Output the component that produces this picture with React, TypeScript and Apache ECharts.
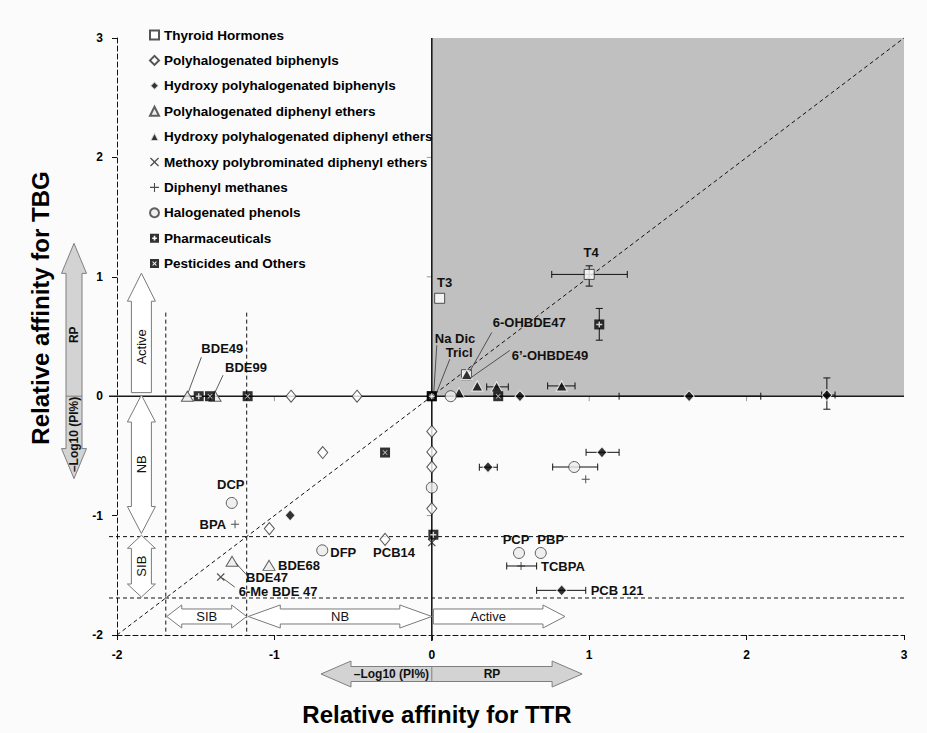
import React, { useEffect, useRef } from "react";
import * as echarts from "echarts";

const FONT = "'Liberation Sans', Arial, Helvetica, sans-serif";
const WIDTH = 927;
const HEIGHT = 733;

// ---- axes (log-scaled relative affinities) ----
const AXIS_MIN = -2;
const AXIS_MAX = 3;
const AXIS_STEP = 1;

// ---- potency cut-offs, -log10(PI%) ----
const NB_CUTOFF = -1.176;
const SIB_CUTOFF = -1.69;
const CUTOFF_LINE_TOP = 0.7;

// ---- compounds: [relative affinity for TTR, relative affinity for TBG] ----
const thyroidHormones = [
  [1.0, 1.02],
  [0.05, 0.82],
  [0.22, 0.18],
];
const polyhalogenatedBiphenyls = [
  [-0.894, 0],
  [-0.475, 0],
  [-0.693, -0.472],
  [-1.032, -1.109],
  [-0.297, -1.199],
  [0, -0.295],
  [0, -0.467],
  [0, -0.593],
  [0, -0.941],
];
const hydroxyBiphenyls = [
  [0.56, 0],
  [1.635, 0],
  [2.51, 0.01],
  [1.081, -0.47],
  [0.357, -0.595],
  [-0.9, -0.998],
  [0.825, -1.626],
];
const diphenylEthers = [
  [-1.553, 0],
  [-1.377, 0],
  [-1.269, -1.383],
  [-1.034, -1.417],
];
const hydroxyDiphenylEthers = [
  [0.222, 0.182],
  [0.289, 0.086],
  [0.412, 0.078],
  [0.173, 0.028],
  [0.825, 0.086],
];
const methoxyDiphenylEthers = [
  [-1.341, -1.515],
  [0, -1.226],
];
const diphenylMethanes = [
  [-1.25, -1.073],
  [0.978, -0.696],
  [0.567, -1.422],
];
const halogenatedPhenols = [
  [-1.271, -0.894],
  [-0.696, -1.291],
  [0.554, -1.313],
  [0.692, -1.313],
  [0.905, -0.593],
  [0.12, 0],
  [0, -0.765],
];
const pharmaceuticals = [
  [1.064, 0.601],
  [-1.481, 0],
  [0, 0],
  [0.01, -1.16],
];
const pesticides = [
  [-1.17, 0],
  [-1.409, 0],
  [-0.297, -0.472],
  [0.422, 0],
  [0, 0],
];

// ---- error bars: [x, y, low, high] ----
const ttrErrorBars = [
  [1.0, 1.02, 0.762, 1.242],
  [1.635, 0, 1.19, 2.09],
  [2.51, 0.01, 2.477, 2.562],
  [1.081, -0.47, 0.98, 1.19],
  [0.357, -0.595, 0.302, 0.416],
  [0.825, -1.626, 0.666, 0.978],
  [0.412, 0.078, 0.349, 0.486],
  [0.825, 0.086, 0.736, 0.91],
  [0.567, -1.422, 0.476, 0.666],
  [0.905, -0.593, 0.768, 1.054],
];
const tbgErrorBars = [
  [1.0, 1.02, 0.922, 1.092],
  [2.51, 0.01, -0.109, 0.153],
  [1.064, 0.601, 0.469, 0.735],
];

// ---- compound names (pixel offsets from the named mark) ----
const pointLabels = [
  { text: "T4", point: thyroidHormones[0], dx: 2, dy: -22, align: "center" },
  { text: "T3", point: thyroidHormones[1], dx: 5, dy: -16, align: "center" },
  { text: "Na Dic", point: pharmaceuticals[2], dx: 3, dy: -58, leader: [5, -51, 2, -4] },
  { text: "Tricl", point: pesticides[4], dx: 14, dy: -44, leader: [18, -37, 5, -4] },
  { text: "6-OHBDE47", point: hydroxyDiphenylEthers[0], dx: 26, dy: -52, leader: [25, -42, 3, -3] },
  { text: "6\u2019-OHBDE49", point: hydroxyDiphenylEthers[0], dx: 45, dy: -19, leader: [43, -24, 3, 4] },
  { text: "BDE49", point: diphenylEthers[0], dx: 14, dy: -48, leader: [14, -39, 1, -4] },
  { text: "BDE99", point: diphenylEthers[1], dx: 10, dy: -29, leader: [8, -21, 0, -4] },
  { text: "DCP", point: halogenatedPhenols[0], dx: -1, dy: -18, align: "center" },
  { text: "BPA", point: diphenylMethanes[0], dx: -9, dy: 0, align: "right" },
  { text: "DFP", point: halogenatedPhenols[1], dx: 8, dy: 2 },
  { text: "PCB14", point: polyhalogenatedBiphenyls[4], dx: 9, dy: 13, align: "center" },
  { text: "BDE68", point: diphenylEthers[3], dx: 9, dy: 0 },
  { text: "BDE47", point: diphenylEthers[2], dx: 14, dy: 16, leader: [4, 2, 14, 13] },
  { text: "6-Me BDE 47", point: methoxyDiphenylEthers[0], dx: 18, dy: 14, leader: [2, 1, 14, 10] },
  { text: "PCP", point: halogenatedPhenols[2], dx: -3, dy: -13, align: "center" },
  { text: "PBP", point: halogenatedPhenols[3], dx: 10, dy: -13, align: "center" },
  { text: "TCBPA", point: diphenylMethanes[2], dx: 20, dy: 1 },
  { text: "PCB 121", point: hydroxyBiphenyls[6], dx: 29, dy: 0 },
];

// ---- activity bands drawn as arrows inside the plot ----
const tbgBands = [
  { text: "Active", from: 0.03, to: 1.03, both: false, headLen: 28 },
  { text: "NB", from: -1.15, to: 0.01, both: true, headLen: 27 },
  { text: "SIB", from: -1.682, to: -1.165, both: true, headLen: 13 },
];
const ttrBands = [
  { text: "SIB", from: -1.684, to: -1.176, both: true, headLen: 15 },
  { text: "NB", from: -1.166, to: 0, both: true, headLen: 32 },
  { text: "Active", from: 0.01, to: 0.846, both: false, headLen: 22 },
];
// scale keys: [-log10(PI%) end, RP end]
const ttrScaleKey = [-0.704, 0.955];
const tbgScaleKey = [-0.69, 1.28];

const PLUS_GLYPH = "path://M3.8,0H6.2V3.8H10V6.2H6.2V10H3.8V6.2H0V3.8H3.8Z";
const THIN_PLUS = "path://M4.4,0H5.6V4.4H10V5.6H5.6V10H4.4V5.6H0V4.4H4.4Z";
const CROSS_GLYPH = "path://M1,0L5,4L9,0L10,1L6,5L10,9L9,10L5,6L1,10L0,9L4,5L0,1Z";
const PHARMA_ICON =
  "path://M0,0H10V10H0Z M4.1,2.4V4.1H2.4V5.9H4.1V7.6H5.9V5.9H7.6V4.1H5.9V2.4Z";
const PESTICIDE_ICON =
  "path://M0,0H10V10H0Z M2.5,3.3L4.2,5L2.5,6.7L3.3,7.5L5,5.8L6.7,7.5L7.5,6.7L5.8,5L7.5,3.3L6.7,2.5L5,4.2L3.3,2.5Z";

const SHADE = "#c0c0c0";
const INK = "#111";

function arrowPolygon(p1, p2, shaft, head, headLen, both) {
  const dx = p2[0] - p1[0];
  const dy = p2[1] - p1[1];
  const len = Math.hypot(dx, dy);
  const ux = dx / len;
  const uy = dy / len;
  const nx = -uy;
  const ny = ux;
  const pt = (t, s) => [p1[0] + ux * t + nx * s, p1[1] + uy * t + ny * s];
  const hs = shaft / 2;
  const hh = head / 2;
  if (both) {
    return [
      pt(0, 0), pt(headLen, -hh), pt(headLen, -hs), pt(len - headLen, -hs),
      pt(len - headLen, -hh), pt(len, 0), pt(len - headLen, hh), pt(len - headLen, hs),
      pt(headLen, hs), pt(headLen, hh),
    ];
  }
  return [
    pt(0, -hs), pt(len - headLen, -hs), pt(len - headLen, -hh), pt(len, 0),
    pt(len - headLen, hh), pt(len - headLen, hs), pt(0, hs),
  ];
}

function dashed(x1, y1, x2, y2) {
  return {
    type: "line",
    shape: { x1, y1, x2, y2 },
    style: { stroke: INK, lineWidth: 1, lineDash: [4, 3] },
  };
}

function solid(x1, y1, x2, y2, stroke = INK, lineWidth = 1) {
  return { type: "line", shape: { x1, y1, x2, y2 }, style: { stroke, lineWidth } };
}

function bandText(text, x, y, vertical, bold = false) {
  return {
    type: "text",
    x,
    y,
    rotation: vertical ? Math.PI / 2 : 0,
    style: {
      text,
      font: `${bold ? "bold " : ""}${bold ? 12 : 13}px ${FONT}`,
      fill: INK,
      align: "center",
      verticalAlign: "middle",
    },
  };
}

function renderFrame(params, api) {
  const c = (x, y) => api.coord([x, y]);
  const [left, bottom] = c(AXIS_MIN, AXIS_MIN);
  const [right, top] = c(AXIS_MAX, AXIS_MAX);
  const [x0, y0] = c(0, 0);
  const children = [];

  // active quadrant
  children.push({
    type: "rect",
    shape: { x: x0, y: top, width: right - x0, height: y0 - top },
    style: { fill: SHADE },
  });

  // cut-off lines
  for (const v of [SIB_CUTOFF, NB_CUTOFF]) {
    const px = c(v, 0)[0];
    const py = c(0, v)[1];
    children.push(dashed(px, c(0, CUTOFF_LINE_TOP)[1], px, bottom));
    children.push(dashed(left - 8, py, right, py));
  }
  // line of equal affinity
  const d0 = c(AXIS_MIN, AXIS_MIN);
  const d1 = c(AXIS_MAX, AXIS_MAX);
  children.push(dashed(d0[0], d0[1], d1[0], d1[1]));

  // zero lines with faint ticks
  for (let v = AXIS_MIN + 1; v < AXIS_MAX; v++) {
    if (v === 0) continue;
    const px = c(v, 0)[0];
    children.push(solid(px, y0, px, y0 + 5, "#9a9a9a"));
    const py = c(0, v)[1];
    children.push(solid(x0 - 5, py, x0, py, "#9a9a9a"));
  }
  children.push(solid(left - 8, y0, right, y0, "#1a1a1a", 1.6));
  children.push(solid(x0, top, x0, bottom + 6, "#1a1a1a", 1.6));

  // activity bands along the TBG axis
  const colX = c((AXIS_MIN + SIB_CUTOFF) / 2, 0)[0];
  for (const b of tbgBands) {
    const p1 = [colX, c(0, b.from)[1]];
    const p2 = [colX, c(0, b.to)[1]];
    children.push({
      type: "polygon",
      shape: { points: arrowPolygon(p1, p2, 20, 28, b.headLen, b.both) },
      style: { fill: "#ffffff", stroke: "#7a7a7a", lineWidth: 1 },
    });
    const midY = b.both ? (p1[1] + p2[1]) / 2 : (p1[1] + p2[1] + b.headLen) / 2;
    children.push(bandText(b.text, colX, midY, true));
  }
  // activity bands along the TTR axis
  const rowY = c(0, (AXIS_MIN + SIB_CUTOFF) / 2)[1];
  for (const b of ttrBands) {
    const p1 = [c(b.from, 0)[0], rowY];
    const p2 = [c(b.to, 0)[0], rowY];
    children.push({
      type: "polygon",
      shape: { points: arrowPolygon(p1, p2, 15, 23, b.headLen, b.both) },
      style: { fill: "#ffffff", stroke: "#7a7a7a", lineWidth: 1 },
    });
    const midX = b.both ? (p1[0] + p2[0]) / 2 : (p1[0] + p2[0] - b.headLen) / 2;
    children.push(bandText(b.text, midX, rowY, false));
  }

  // scale keys outside the axes
  const keyHead = 30;
  const keyFill = { fill: "#d3d3d3", stroke: "#7f7f7f", lineWidth: 1 };
  {
    const y = bottom + 39;
    const p1 = [c(ttrScaleKey[0], 0)[0], y];
    const p2 = [c(ttrScaleKey[1], 0)[0], y];
    children.push({ type: "polygon", shape: { points: arrowPolygon(p1, p2, 15, 26, keyHead, true) }, style: keyFill });
    children.push(solid(x0, y - 7.5, x0, y + 7.5, "#7f7f7f"));
    children.push(bandText("\u2013Log10 (PI%)", (p1[0] + keyHead + x0) / 2, y, false, true));
    children.push(bandText("RP", (x0 + p2[0] - keyHead) / 2, y, false, true));
  }
  {
    const x = left - 43;
    const p1 = [x, c(0, tbgScaleKey[0])[1]];
    const p2 = [x, c(0, tbgScaleKey[1])[1]];
    children.push({ type: "polygon", shape: { points: arrowPolygon(p1, p2, 16, 25, keyHead, true) }, style: keyFill });
    children.push(solid(x - 8, y0, x + 8, y0, "#7f7f7f"));
    children.push(bandText("\u2013Log10 (PI%)", x, (y0 + p1[1] - 6) / 2, true, true));
    children.push(bandText("RP", x, (y0 + p2[1] + keyHead) / 2, true, true));
  }

  return { type: "group", children };
}

function renderErrorBar(horizontal) {
  return (params, api) => {
    const x = api.value(0);
    const y = api.value(1);
    const lo = api.value(2);
    const hi = api.value(3);
    const a = horizontal ? api.coord([lo, y]) : api.coord([x, lo]);
    const b = horizontal ? api.coord([hi, y]) : api.coord([x, hi]);
    const cap = 3.5;
    const style = { stroke: INK, lineWidth: 1 };
    const capLine = (p) =>
      horizontal
        ? { type: "line", shape: { x1: p[0], y1: p[1] - cap, x2: p[0], y2: p[1] + cap }, style }
        : { type: "line", shape: { x1: p[0] - cap, y1: p[1], x2: p[0] + cap, y2: p[1] }, style };
    return {
      type: "group",
      children: [
        { type: "line", shape: { x1: a[0], y1: a[1], x2: b[0], y2: b[1] }, style },
        capLine(a),
        capLine(b),
      ],
    };
  };
}

function renderPointLabel(params, api) {
  const l = pointLabels[params.dataIndex];
  const p = api.coord([api.value(0), api.value(1)]);
  const children: any[] = [
    {
      type: "text",
      x: p[0] + l.dx,
      y: p[1] + l.dy,
      style: {
        text: l.text,
        font: `bold 13px ${FONT}`,
        fill: INK,
        align: l.align || "left",
        verticalAlign: "middle",
      },
    },
  ];
  if (l.leader) {
    const [ax, ay, bx, by] = l.leader;
    children.push(solid(p[0] + ax, p[1] + ay, p[0] + bx, p[1] + by, "#333", 0.8));
  }
  return { type: "group", children };
}

function scatter(name, data, symbol, symbolSize, itemStyle, z = 4) {
  return { type: "scatter", name, data, symbol, symbolSize, itemStyle, z, silent: true };
}

export default function App() {
  const ref = useRef<HTMLDivElement>(null);

  useEffect(() => {
    if (!ref.current) return;
    const chart = echarts.init(ref.current, undefined, { renderer: "svg" });

    const open = { color: "#ffffff", borderColor: "#2a2a2a", borderWidth: 1 };
    const pale = { color: "#ececec", borderColor: "#3a3a3a", borderWidth: 1 };
    const solidBlack = { color: "#000000", borderColor: "#ffffff", borderWidth: 1 };
    const blackBox = { color: "#000000", borderWidth: 0 };
    const iconStyle = { color: "#000000", borderWidth: 0 };

    const axisCommon = {
      type: "value",
      min: AXIS_MIN,
      max: AXIS_MAX,
      interval: AXIS_STEP,
      splitLine: { show: false },
      axisLine: { show: true, onZero: false, lineStyle: { color: INK, width: 1, type: [5, 3] } },
      axisTick: { show: true, length: 5, lineStyle: { color: INK } },
      axisLabel: { fontFamily: FONT, fontWeight: "bold", fontSize: 12, color: "#000", margin: 14 },
    };

    chart.setOption({
      animation: false,
      backgroundColor: "#fbfbfb",
      grid: { left: 117, right: 23, top: 38, bottom: 98 },
      xAxis: { ...axisCommon },
      yAxis: { ...axisCommon },
      legend: {
        orient: "vertical",
        left: 149,
        top: 28,
        padding: 0,
        itemWidth: 9,
        itemHeight: 9,
        itemGap: 11.4,
        selectedMode: false,
        textStyle: { fontFamily: FONT, fontWeight: "bold", fontSize: 13.5, color: "#000", lineHeight: 14 },
        data: [
          { name: "Thyroid Hormones" },
          { name: "Polyhalogenated biphenyls" },
          { name: "Hydroxy polyhalogenated biphenyls" },
          { name: "Polyhalogenated diphenyl ethers" },
          { name: "Hydroxy polyhalogenated diphenyl ethers" },
          { name: "Methoxy polybrominated diphenyl ethers" },
          { name: "Diphenyl methanes" },
          { name: "Halogenated phenols" },
          { name: "Pharmaceuticals", icon: PHARMA_ICON, itemStyle: iconStyle },
          { name: "Pesticides and Others", icon: PESTICIDE_ICON, itemStyle: iconStyle },
        ],
      },
      graphic: [
        {
          type: "text",
          x: 437,
          y: 714,
          style: {
            text: "Relative affinity for TTR",
            font: `bold 24px ${FONT}`,
            fill: "#000",
            align: "center",
            verticalAlign: "middle",
          },
        },
        {
          type: "text",
          x: 40,
          y: 308,
          rotation: Math.PI / 2,
          style: {
            text: "Relative affinity for TBG",
            font: `bold 24px ${FONT}`,
            fill: "#000",
            align: "center",
            verticalAlign: "middle",
          },
        },
      ],
      series: [
        {
          type: "custom",
          name: "frame",
          data: [[0, 0]],
          renderItem: renderFrame,
          silent: true,
          z: 1,
        },
        { type: "custom", name: "ttrError", data: ttrErrorBars, renderItem: renderErrorBar(true), silent: true, z: 2 },
        { type: "custom", name: "tbgError", data: tbgErrorBars, renderItem: renderErrorBar(false), silent: true, z: 2 },
        scatter("Thyroid Hormones", thyroidHormones, "rect", 10, open),
        scatter("Polyhalogenated biphenyls", polyhalogenatedBiphenyls, "diamond", [10, 12], open),
        scatter("Hydroxy polyhalogenated biphenyls", hydroxyBiphenyls, "diamond", [10, 11], solidBlack),
        scatter("Polyhalogenated diphenyl ethers", diphenylEthers, "triangle", [12, 10], pale),
        scatter("Hydroxy polyhalogenated diphenyl ethers", hydroxyDiphenylEthers, "triangle", [11, 10], solidBlack),
        scatter("Methoxy polybrominated diphenyl ethers", methoxyDiphenylEthers, CROSS_GLYPH, 8, { color: "#222" }),
        scatter("Diphenyl methanes", diphenylMethanes, THIN_PLUS, 8, { color: "#222" }),
        scatter("Halogenated phenols", halogenatedPhenols, "circle", 11, pale),
        scatter("Pharmaceuticals", pharmaceuticals, "rect", 10, blackBox),
        scatter("pharmaceuticalGlyph", pharmaceuticals, PLUS_GLYPH, 6, { color: "#fff" }, 5),
        scatter("Pesticides and Others", pesticides, "rect", 10, blackBox),
        scatter("pesticideGlyph", pesticides, CROSS_GLYPH, 5, { color: "#fff" }, 5),
        {
          type: "custom",
          name: "names",
          data: pointLabels.map((l) => [l.point[0], l.point[1]]),
          renderItem: renderPointLabel,
          silent: true,
          z: 6,
        },
      ],
    });

    return () => chart.dispose();
  }, []);

  return (
    <div
      ref={ref}
      style={{ position: "absolute", left: 0, top: 0, width: WIDTH, height: HEIGHT }}
    />
  );
}
